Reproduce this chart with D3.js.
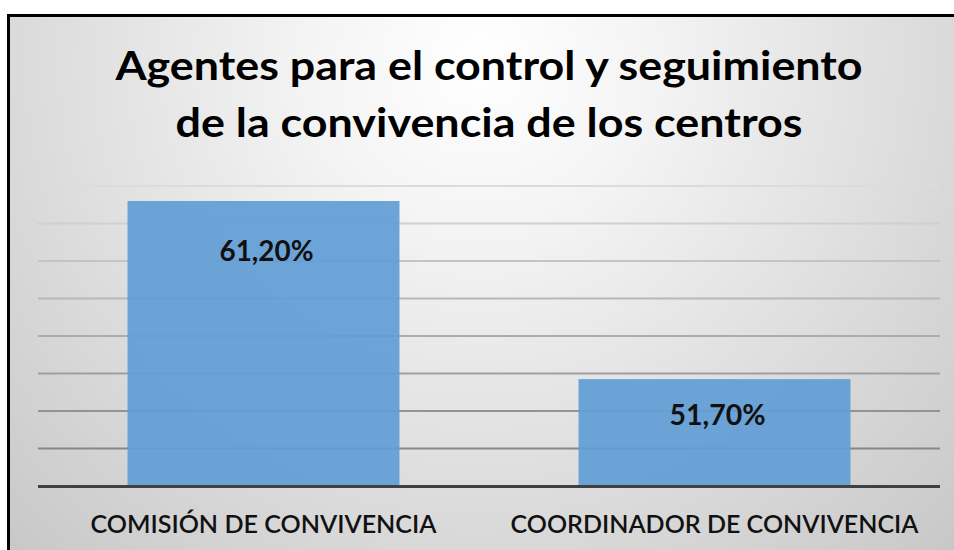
<!DOCTYPE html>
<html>
<head>
<meta charset="utf-8">
<script src="https://cdn.jsdelivr.net/npm/d3@7/dist/d3.min.js"></script>
<style>
  html, body { margin: 0; padding: 0; background: #ffffff; }
  svg { display: block; }
</style>
</head>
<body>
<svg id="chart" width="954" height="550"></svg>
<script>
// ---- data ----
const titleLines = ["Agentes para el control y seguimiento", "de la convivencia de los centros"];
const categories = ["COMISIÓN DE CONVIVENCIA", "COORDINADOR DE CONVIVENCIA"];
const values = [61.2, 51.7];
const valueLabels = ["61,20%", "51,70%"];
const yDomain = [46, 62];
const yTickStep = 2;

// ---- layout / style ----
const W = 954, H = 550;
const plot = { left: 38, right: 940, top: 186, bottom: 486 };
const labelOffsets = [60, 46];          // baseline distance below bar top
const titleWidths = [747, 627];
const catWidths = [346, 408];
const valWidths = [94, 96];
const fontFamily = "Lato, 'Open Sans', 'DejaVu Sans', sans-serif";

const svg = d3.select("#chart");
const defs = svg.append("defs");

const bg = defs.append("radialGradient").attr("id", "bg")
  .attr("gradientUnits", "userSpaceOnUse")
  .attr("cx", 480).attr("cy", 60).attr("r", 680);
bg.append("stop").attr("offset", "0").attr("stop-color", "#ffffff");
bg.append("stop").attr("offset", "0.25").attr("stop-color", "#f4f4f4");
bg.append("stop").attr("offset", "0.7").attr("stop-color", "#d9d9d9");
bg.append("stop").attr("offset", "1").attr("stop-color", "#c8c8c8");

const gg = defs.append("linearGradient").attr("id", "grid")
  .attr("gradientUnits", "userSpaceOnUse")
  .attr("x1", 0).attr("x2", 0).attr("y1", plot.top).attr("y2", 449);
gg.append("stop").attr("offset", "0").attr("stop-color", "#dcdcdc");
gg.append("stop").attr("offset", "1").attr("stop-color", "#878787");

// background + frame
svg.append("rect").attr("x", 8.5).attr("y", 15.5).attr("width", W).attr("height", H)
  .attr("fill", "url(#bg)").attr("stroke", "#000").attr("stroke-width", 3);

// scales
const x = d3.scaleBand().domain(categories).range([plot.left, plot.right])
  .paddingInner(0.397).paddingOuter(0.1985);
const y = d3.scaleLinear().domain(yDomain).range([plot.bottom, plot.top]);

// gridlines (from the axis ticks, drawn as thin rects so the vertical gradient applies)
const ticks = d3.range(yDomain[0] + yTickStep, yDomain[1] + 0.001, yTickStep);
const yAxis = d3.axisLeft(y).tickValues(ticks);
svg.append("g").attr("class", "grid").selectAll("rect").data(yAxis.tickValues()).join("rect")
  .attr("x", plot.left).attr("width", plot.right - plot.left)
  .attr("y", d => y(d) - 1).attr("height", 2)
  .attr("fill", "url(#grid)");

// bars
svg.append("g").selectAll("rect").data(values).join("rect")
  .attr("x", (d, i) => x(categories[i]))
  .attr("width", x.bandwidth())
  .attr("y", d => y(d))
  .attr("height", d => y(yDomain[0]) - y(d))
  .attr("fill", "#619dd5").attr("fill-opacity", 0.92);

// baseline
svg.append("line")
  .attr("x1", plot.left).attr("x2", plot.right)
  .attr("y1", y(yDomain[0]) + 0.5).attr("y2", y(yDomain[0]) + 0.5)
  .attr("stroke", "#404040").attr("stroke-width", 3);

// value labels
svg.append("g").selectAll("text").data(values).join("text")
  .attr("x", (d, i) => x(categories[i]) + x.bandwidth() / 2 + 3)
  .attr("y", (d, i) => y(d) + labelOffsets[i])
  .attr("text-anchor", "middle")
  .attr("font-family", fontFamily).attr("font-weight", "bold").attr("font-size", 29)
  .attr("fill", "#111")
  .attr("textLength", (d, i) => valWidths[i]).attr("lengthAdjust", "spacingAndGlyphs")
  .text((d, i) => valueLabels[i]);

// category labels
svg.append("g").selectAll("text").data(categories).join("text")
  .attr("x", d => x(d) + x.bandwidth() / 2)
  .attr("y", 533)
  .attr("text-anchor", "middle")
  .attr("font-family", fontFamily).attr("font-weight", "600").attr("font-size", 25)
  .attr("fill", "#111")
  .attr("textLength", (d, i) => catWidths[i]).attr("lengthAdjust", "spacingAndGlyphs")
  .text(d => d);

// title
svg.append("g").selectAll("text").data(titleLines).join("text")
  .attr("x", 489)
  .attr("y", (d, i) => 80 + i * 57)
  .attr("text-anchor", "middle")
  .attr("font-family", fontFamily).attr("font-weight", "bold").attr("font-size", 40)
  .attr("fill", "#000")
  .attr("textLength", (d, i) => titleWidths[i]).attr("lengthAdjust", "spacingAndGlyphs")
  .text(d => d);
</script>
</body>
</html>
